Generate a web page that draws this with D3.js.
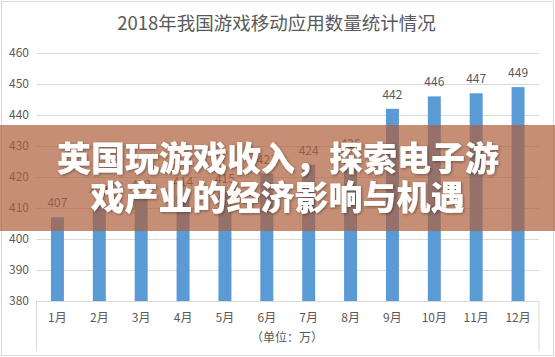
<!DOCTYPE html>
<html><head><meta charset="utf-8">
<script src="https://cdn.jsdelivr.net/npm/d3@7"></script>
<style>
html,body{margin:0;padding:0;background:#fff;}
svg{display:block;font-family:"Noto Sans CJK SC","Noto Sans",sans-serif;}
</style></head>
<body><svg id="c" width="555" height="357"></svg>
<script>
const title = "2018年我国游戏移动应用数量统计情况";
const months = ["1月","2月","3月","4月","5月","6月","7月","8月","9月","10月","11月","12月"];
const values = [407, 411, 413, 414, 415, 421, 424, 426, 442, 446, 447, 449];
const yTicks = [380, 390, 400, 410, 420, 430, 440, 450, 460];
const unitLabel = "（单位：万）";
const bannerLines = ["英国玩游戏收入，探索电子游", "戏产业的经济影响与机遇"];

(function(){
const svg = d3.select("#c");
const W = 555, H = 357;
const pLeft = 36.5, pRight = 539, pTop = 53, pBottom = 301;

svg.append("rect").attr("x",1.5).attr("y",1.5).attr("width",W-3).attr("height",H-3)
  .attr("fill","#fff").attr("stroke","#d9d9d9");

svg.append("text").attr("x",276.5).attr("y",29.5).attr("text-anchor","middle")
  .attr("font-size",18.5).attr("fill","#595959").text(title);

const x = d3.scaleBand().domain(months).range([pLeft,pRight]).paddingInner(0.69).paddingOuter(0.345);
const y = d3.scaleLinear().domain([380,460]).range([pBottom,pTop]);

svg.append("g").selectAll("line").data(yTicks.slice(1)).join("line")
  .attr("x1",pLeft).attr("x2",pRight).attr("y1",d=>Math.round(y(d))+0.5).attr("y2",d=>Math.round(y(d))+0.5)
  .attr("stroke","#d9d9d9");

const yAxis = d3.axisLeft(y).tickValues(yTicks).tickSize(0).tickPadding(0);
const ya = svg.append("g").attr("transform",`translate(29,0)`).call(yAxis);
ya.select(".domain").remove();
ya.selectAll("text").attr("font-size",12).attr("fill","#595959").attr("font-family","'Noto Sans CJK SC',sans-serif");

svg.append("g").selectAll("rect").data(values).join("rect")
  .attr("x",(d,i)=>x(months[i])).attr("width",x.bandwidth())
  .attr("y",d=>y(d)).attr("height",d=>pBottom-y(d)).attr("fill","#5b9bd5");

svg.append("g").selectAll("text").data(values).join("text")
  .attr("x",(d,i)=>x(months[i])+x.bandwidth()/2).attr("y",d=>y(d)-10)
  .attr("text-anchor","middle").attr("font-size",12).attr("fill","#595959").text(d=>d);

const xa = svg.append("g");
xa.append("line").attr("x1",pLeft).attr("x2",pRight).attr("y1",pBottom+0.5).attr("y2",pBottom+0.5).attr("stroke","#d9d9d9");
xa.append("line").attr("x1",pLeft).attr("x2",pLeft).attr("y1",pBottom).attr("y2",351).attr("stroke","#d9d9d9");
xa.append("line").attr("x1",pRight).attr("x2",pRight).attr("y1",pBottom).attr("y2",351).attr("stroke","#d9d9d9");
const xAxis = d3.axisBottom(x).tickSize(0).tickPadding(0);
const xg = svg.append("g").attr("transform",`translate(0,${pBottom+21})`).call(xAxis);
xg.select(".domain").remove();
xg.selectAll("text").attr("font-size",12).attr("fill","#595959").attr("dy","0").attr("font-family","'Noto Sans CJK SC',sans-serif");

svg.append("text").attr("x",287).attr("y",342).attr("text-anchor","middle")
  .attr("font-size",12).attr("fill","#595959").text(unitLabel);

const defs = svg.append("defs");
const f = defs.append("filter").attr("id","sh").attr("x","-10%").attr("y","-30%").attr("width","120%").attr("height","160%");
f.append("feDropShadow").attr("dx",1).attr("dy",1).attr("stdDeviation",1.5).attr("flood-color","#000").attr("flood-opacity",0.4);

svg.append("rect").attr("x",0).attr("y",125).attr("width",W).attr("height",106)
  .attr("fill","rgb(174,95,58)").attr("fill-opacity",0.7);

svg.append("g").attr("filter","url(#sh)").selectAll("text").data(bannerLines).join("text")
  .attr("x",(d,i)=>i===0?278:277.5).attr("y",(d,i)=>171+i*39).attr("text-anchor","middle")
  .attr("font-size",34).attr("font-weight",900).attr("fill","#fff").text(d=>d);
})();
</script></body></html>
